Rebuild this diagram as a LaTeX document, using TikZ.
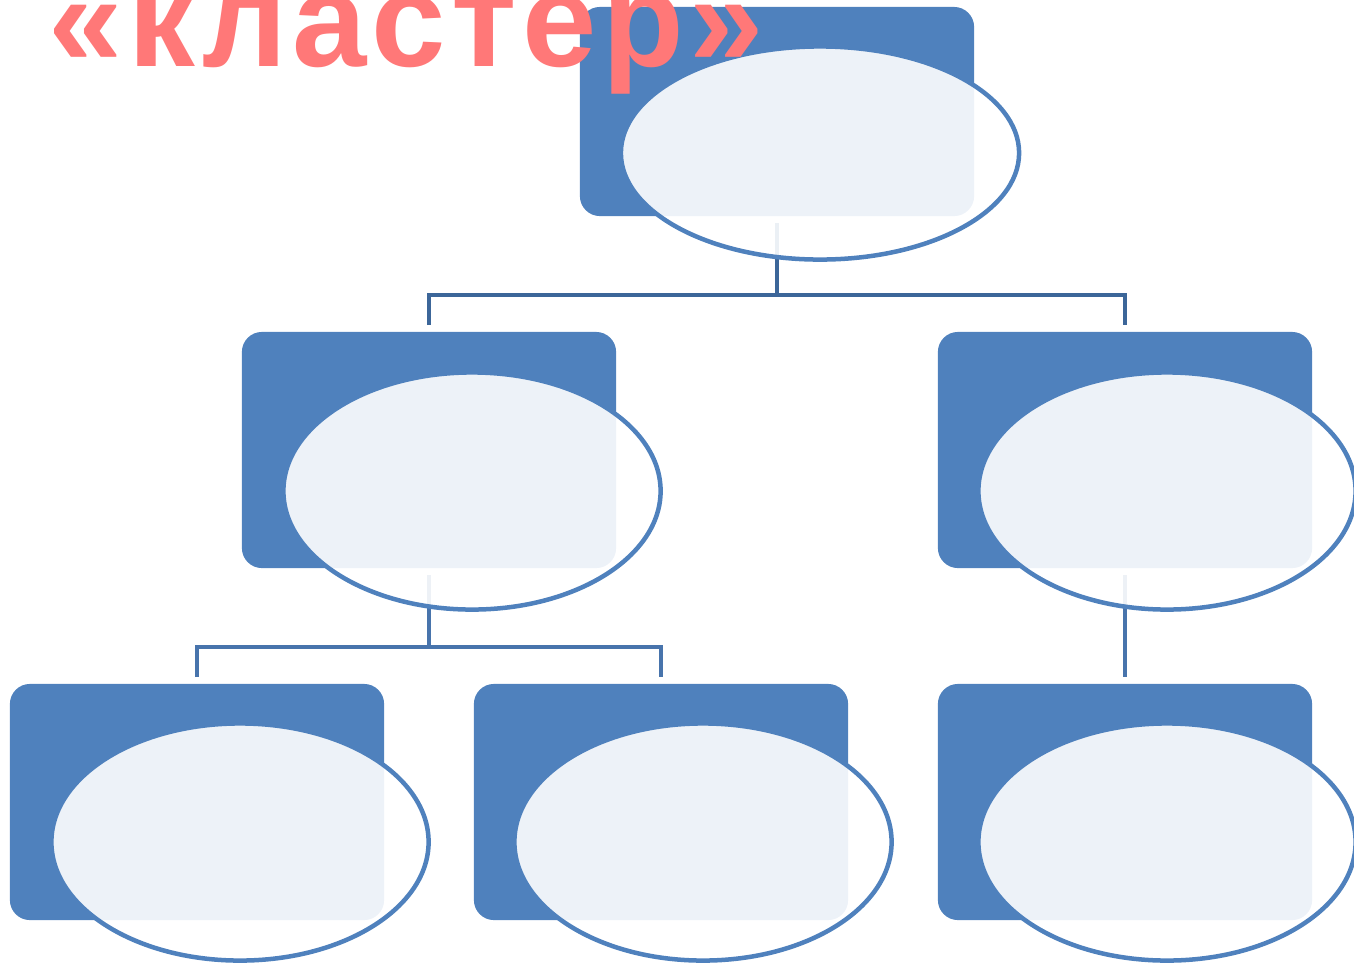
\documentclass[tikz,border=0pt]{standalone}
\usepackage{fontspec}
\setmainfont{Liberation Sans}
\newfontfamily\titlefont[LetterSpace=4.0]{Liberation Sans}
\usetikzlibrary{shapes.geometric}
\definecolor{boxblue}{HTML}{4F81BD}
\definecolor{linetop}{HTML}{3C6699}
\definecolor{linelow}{HTML}{4874AC}
\definecolor{titlered}{HTML}{FF7878}
\tikzset{
  card/.style={rectangle, rounded corners=0.2cm, fill=boxblue, inner sep=0pt},
  cardlow/.style={card, minimum width=3.74cm, minimum height=2.36cm},
  bubble/.style={ellipse, draw=boxblue, line width=0.045cm, fill=white, fill opacity=0.9, draw opacity=1, inner sep=0pt},
  bubblelow/.style={bubble, minimum width=3.77cm, minimum height=2.37cm},
  conntop/.style={draw=linetop, line width=0.04cm},
  connlow/.style={draw=linelow, line width=0.04cm},
}
\begin{document}
\begin{tikzpicture}[x=0.01cm, y=-0.01cm]
\useasboundingbox (0,0) rectangle (1354,966);
\clip (0,0) rectangle (1354,966);
% cards
\node[card, minimum width=3.94cm, minimum height=2.09cm] (r0) at (777,111.5) {};
\node[cardlow] (r1) at (429,450) {};
\node[cardlow] (r2) at (1125,450) {};
\node[cardlow] (r3) at (197,802) {};
\node[cardlow] (r4) at (661,802) {};
\node[cardlow] (r5) at (1125,802) {};
% connectors
\draw[conntop] ([yshift=-0.06cm]r0.south) -- ([yshift=-0.78cm]r0.south);
\draw[conntop] ([yshift=0.06cm]r1.north) |- ([yshift=-0.78cm]r0.south) -| ([yshift=0.06cm]r2.north);
\draw[connlow] ([yshift=-0.06cm]r1.south) -- ([yshift=-0.78cm]r1.south);
\draw[connlow] ([yshift=0.06cm]r3.north) |- ([yshift=-0.78cm]r1.south) -| ([yshift=0.06cm]r4.north);
\draw[connlow] ([yshift=-0.06cm]r2.south) -- ([yshift=0.06cm]r5.north);
% bubbles
\node[bubble, minimum width=3.98cm, minimum height=2.13cm] (e0) at (820,153) {};
\node[bubblelow] (e1) at (472,491) {};
\node[bubblelow] (e2) at (1167,491) {};
\node[bubblelow] (e3) at (240,842) {};
\node[bubblelow] (e4) at (703,842) {};
\node[bubblelow] (e5) at (1167,842) {};
% title
\node[anchor=base west, inner sep=0pt, text=titlered, font=\titlefont\fontsize{38}{38}\selectfont\bfseries] (title) at (48,66) {«кластер»};
\end{tikzpicture}
\end{document}
